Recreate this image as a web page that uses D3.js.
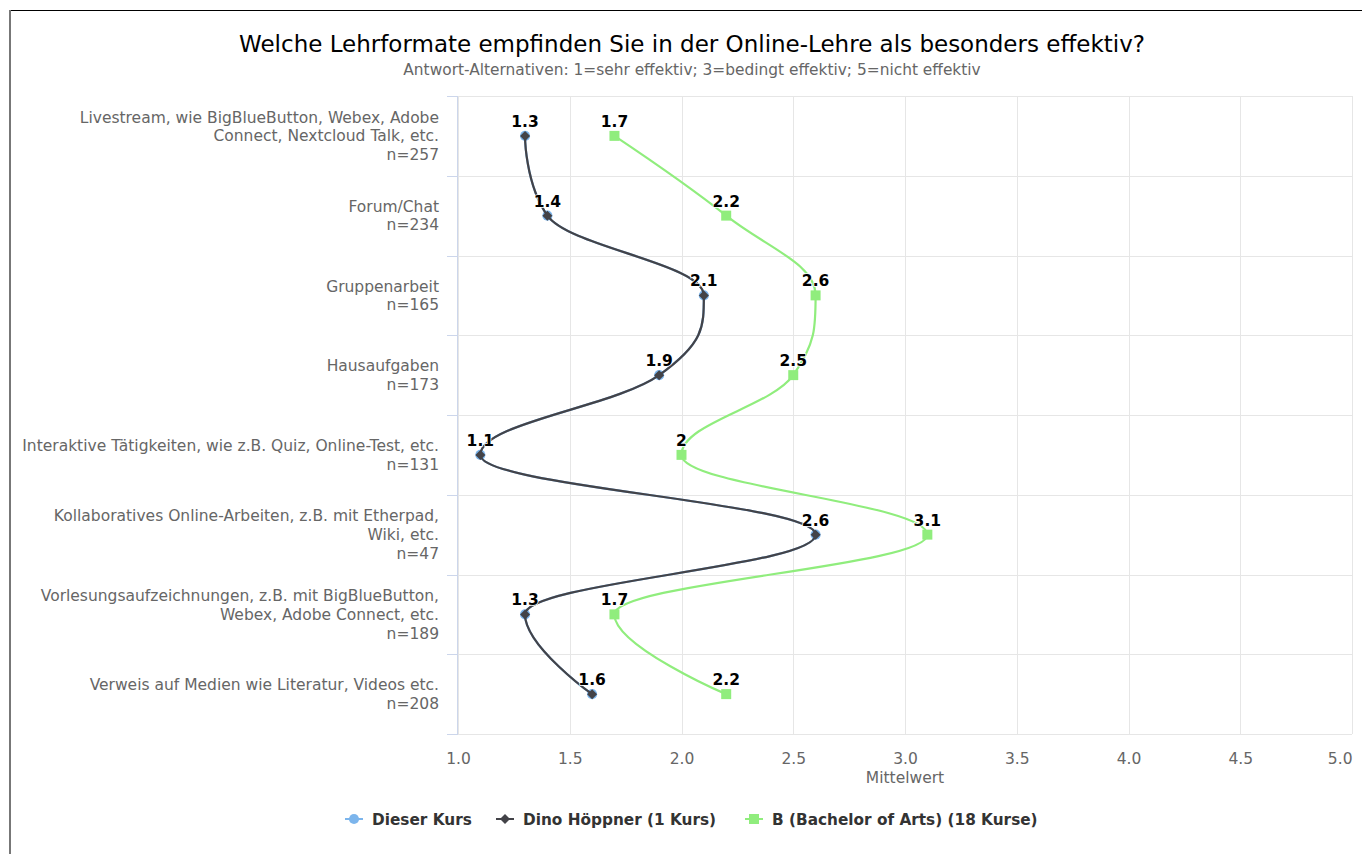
<!DOCTYPE html>
<html>
<head>
<meta charset="utf-8">
<script src="https://cdn.jsdelivr.net/npm/d3@7"></script>
<style>
  body { margin: 0; background: #fff; }
  text { font-family: "DejaVu Sans", sans-serif; }
</style>
</head>
<body>
<script>
// Categories (wrapped label lines) and respondent counts
const categoryLines = [
    ["Livestream, wie BigBlueButton, Webex, Adobe", "Connect, Nextcloud Talk, etc."],
    ["Forum/Chat"],
    ["Gruppenarbeit"],
    ["Hausaufgaben"],
    ["Interaktive Tätigkeiten, wie z.B. Quiz, Online-Test, etc."],
    ["Kollaboratives Online-Arbeiten, z.B. mit Etherpad,", "Wiki, etc."],
    ["Vorlesungsaufzeichnungen, z.B. mit BigBlueButton,", "Webex, Adobe Connect, etc."],
    ["Verweis auf Medien wie Literatur, Videos etc."]
];
const counts = [257, 234, 165, 173, 131, 47, 189, 208];

// Series values (Mittelwert)
const dieserKurs = [1.3, 1.4, 2.1, 1.9, 1.1, 2.6, 1.3, 1.6];
const dino = [1.3, 1.4, 2.1, 1.9, 1.1, 2.6, 1.3, 1.6];
const bachelor = [1.7, 2.2, 2.6, 2.5, 2, 3.1, 1.7, 2.2];

const seriesNames = ["Dieser Kurs", "Dino Höppner (1 Kurs)", "B (Bachelor of Arts) (18 Kurse)"];
const xTicks = [1.0, 1.5, 2.0, 2.5, 3.0, 3.5, 4.0, 4.5, 5.0];

const width = 1362, height = 854;
const margin = { top: 96, bottom: 120, left: 458, right: 10 };

const svg = d3.select("body")
    .append("svg")
    .attr("width", width)
    .attr("height", height);

// frame lines
svg.append("line").attr("x1", 10).attr("x2", width).attr("y1", 10.5).attr("y2", 10.5)
    .attr("stroke", "#000").attr("stroke-width", 1);
svg.append("line").attr("x1", 10).attr("x2", 10).attr("y1", 10).attr("y2", height)
    .attr("stroke", "#777").attr("stroke-width", 2);

// title + subtitle
svg.append("text")
    .attr("x", 692).attr("y", 52)
    .attr("text-anchor", "middle")
    .style("font-size", "23px").style("fill", "#000")
    .text("Welche Lehrformate empfinden Sie in der Online-Lehre als besonders effektiv?");
svg.append("text")
    .attr("x", 692).attr("y", 75)
    .attr("text-anchor", "middle")
    .style("font-size", "15.4px").style("fill", "#666")
    .text("Antwort-Alternativen: 1=sehr effektiv; 3=bedingt effektiv; 5=nicht effektiv");

const categories = categoryLines.map((d, i) => i);

const xScale = d3.scaleLinear()
    .domain([1, 5])
    .range([margin.left, width - margin.right]);

const yScale = d3.scaleBand()
    .domain(categories)
    .range([margin.top, height - margin.bottom]);

const yMid = i => yScale(i) + yScale.bandwidth() / 2;

// vertical grid
svg.append("g")
    .selectAll("line")
    .data(xTicks)
    .enter().append("line")
    .attr("x1", d => Math.round(xScale(d)) + 0.5)
    .attr("x2", d => Math.round(xScale(d)) + 0.5)
    .attr("y1", margin.top)
    .attr("y2", height - margin.bottom)
    .attr("stroke", "#e6e6e6");

// horizontal grid at band edges
const bandEdges = categories.map(i => yScale(i)).concat([height - margin.bottom]);
svg.append("g")
    .selectAll("line")
    .data(bandEdges)
    .enter().append("line")
    .attr("x1", margin.left)
    .attr("x2", width - margin.right)
    .attr("y1", d => Math.round(d) + 0.5)
    .attr("y2", d => Math.round(d) + 0.5)
    .attr("stroke", "#e6e6e6");

// category axis line and ticks
svg.append("line")
    .attr("x1", margin.left - 0.5).attr("x2", margin.left - 0.5)
    .attr("y1", margin.top).attr("y2", height - margin.bottom)
    .attr("stroke", "#ccd6eb");
svg.append("g")
    .selectAll("line")
    .data(bandEdges)
    .enter().append("line")
    .attr("x1", margin.left - 11)
    .attr("x2", margin.left)
    .attr("y1", d => Math.round(d) + 0.5)
    .attr("y2", d => Math.round(d) + 0.5)
    .attr("stroke", "#ccd6eb");

// category labels
const labelLineH = 18.7;
categoryLines.forEach((lines, i) => {
    const all = lines.concat(["n=" + counts[i]]);
    const y0 = yMid(i) - (all.length - 1) * labelLineH / 2 + 5.5;
    const t = svg.append("text")
        .attr("text-anchor", "end")
        .style("font-size", "15.5px").style("fill", "#666");
    all.forEach((line, j) => {
        t.append("tspan")
            .attr("x", 439)
            .attr("y", y0 + j * labelLineH)
            .text(line);
    });
});

// x axis labels
const xAxis = svg.append("g")
    .attr("transform", `translate(0, ${height - margin.bottom})`)
    .call(d3.axisBottom(xScale).tickValues(xTicks).tickFormat(d3.format(".1f")).tickSize(0).tickPadding(19));
xAxis.select(".domain").remove();
xAxis.selectAll("text")
    .style("font-size", "15.5px").style("fill", "#666")
    .style("font-family", "DejaVu Sans, sans-serif")
    .attr("text-anchor", (d, i) => i === xTicks.length - 1 ? "end" : "middle");

svg.append("text")
    .attr("x", (margin.left + width - margin.right) / 2)
    .attr("y", 783)
    .attr("text-anchor", "middle")
    .style("font-size", "15.5px").style("fill", "#666")
    .text("Mittelwert");

// Highcharts-like spline, category axis vertical
function curveSpline(context) {
    let pts;
    return {
        areaStart() {}, areaEnd() {},
        lineStart() { pts = []; },
        point(x, y) { pts.push([x, y]); },
        lineEnd() {
            const n = pts.length, sm = 1.5, den = 2.5;
            // c = category (screen y), v = value (screen x)
            const P = pts.map(p => ({ c: p[1], v: p[0] }));
            P.forEach((p, i) => {
                if (i === 0 || i === n - 1) return;
                const last = P[i - 1], next = P[i + 1];
                const lc = (sm * p.c + last.c) / den, rc = (sm * p.c + next.c) / den;
                let lv = (sm * p.v + last.v) / den, rv = (sm * p.v + next.v) / den;
                let corr = 0;
                if (rc !== lc) corr = ((rv - lv) * (rc - p.c)) / (rc - lc) + p.v - rv;
                lv += corr; rv += corr;
                if (lv > last.v && lv > p.v) { lv = Math.max(last.v, p.v); rv = 2 * p.v - lv; }
                else if (lv < last.v && lv < p.v) { lv = Math.min(last.v, p.v); rv = 2 * p.v - lv; }
                if (rv > next.v && rv > p.v) { rv = Math.max(next.v, p.v); lv = 2 * p.v - rv; }
                else if (rv < next.v && rv < p.v) { rv = Math.min(next.v, p.v); lv = 2 * p.v - rv; }
                p.lc = lc; p.lv = lv; p.rc = rc; p.rv = rv;
            });
            context.moveTo(P[0].v, P[0].c);
            for (let i = 1; i < n; i++) {
                const a = P[i - 1], b = P[i];
                context.bezierCurveTo(
                    a.rv !== undefined ? a.rv : a.v, a.rc !== undefined ? a.rc : a.c,
                    b.lv !== undefined ? b.lv : b.v, b.lc !== undefined ? b.lc : b.c,
                    b.v, b.c);
            }
        }
    };
}

// rhombus marker spanning +-r both ways
const symbolRhombus = {
    draw(ctx, size) {
        const r = Math.sqrt(size) / 2;
        ctx.moveTo(0, -r); ctx.lineTo(r, 0); ctx.lineTo(0, r); ctx.lineTo(-r, 0); ctx.closePath();
    }
};

const line = d3.line()
    .x(d => xScale(d.v))
    .y(d => yMid(d.i))
    .curve(curveSpline);

const series = [
    { name: seriesNames[0], values: dieserKurs, color: "#7cb5ec", symbol: d3.symbolCircle, size: 80 },
    { name: seriesNames[1], values: dino, color: "#434348", symbol: symbolRhombus, size: 100 },
    { name: seriesNames[2], values: bachelor, color: "#90ed7d", symbol: d3.symbolSquare, size: 100 }
];

series.forEach(s => {
    const pts = s.values.map((v, i) => ({ v, i }));
    svg.append("path")
        .datum(pts)
        .attr("fill", "none")
        .attr("stroke", s.color)
        .attr("stroke-width", 2.2)
        .attr("d", line);
    svg.append("g")
        .selectAll("path")
        .data(pts)
        .enter().append("path")
        .attr("transform", d => `translate(${xScale(d.v)},${yMid(d.i)})`)
        .attr("d", d3.symbol().type(s.symbol).size(s.size))
        .attr("fill", s.color);
});

// data labels (skip the hidden duplicate series)
series.slice(1).forEach(s => {
    svg.append("g")
        .selectAll("text")
        .data(s.values.map((v, i) => ({ v, i })))
        .enter().append("text")
        .attr("x", d => xScale(d.v))
        .attr("y", d => yMid(d.i) - 9)
        .attr("text-anchor", "middle")
        .style("font-size", "15.5px").style("font-weight", "bold")
        .style("fill", "#000")
        .style("stroke", "#fff").style("stroke-width", 1.5)
        .style("paint-order", "stroke")
        .text(d => String(d.v));
});

// legend
const legendX = [345, 496, 745];
const legend = svg.selectAll(".legend")
    .data(series)
    .enter().append("g")
    .attr("class", "legend")
    .attr("transform", (d, i) => `translate(${legendX[i]}, 819)`);

legend.append("line")
    .attr("x1", 0).attr("x2", 18)
    .attr("stroke", d => d.color)
    .attr("stroke-width", 2);

legend.append("path")
    .attr("transform", "translate(9,0)")
    .attr("d", d => d3.symbol().type(d.symbol).size(d.size)())
    .attr("fill", d => d.color);

legend.append("text")
    .attr("x", 27)
    .attr("y", 5.5)
    .style("font-size", "15.3px").style("font-weight", "bold")
    .style("fill", "#333")
    .text(d => d.name);
</script>
</body>
</html>
